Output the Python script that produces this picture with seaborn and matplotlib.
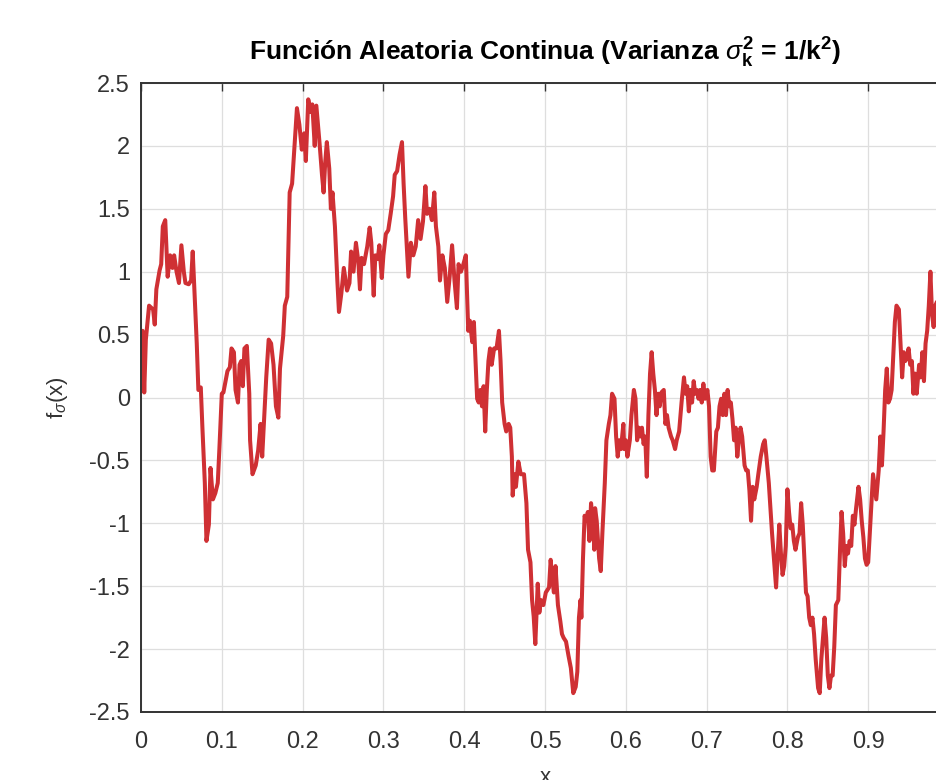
import matplotlib
matplotlib.use("Agg")
import matplotlib.pyplot as plt
import matplotlib.ticker as mticker
import numpy as np
import pandas as pd
import seaborn as sns

# sample positions (x)
x_vals = [
    0.000, 0.002, 0.004, 0.006, 0.010, 0.015, 0.017, 0.019, 0.023, 0.025,
    0.027, 0.030, 0.033, 0.036, 0.039, 0.041, 0.044, 0.047, 0.050, 0.053,
    0.055, 0.059, 0.062, 0.064, 0.066, 0.069, 0.071, 0.074, 0.076, 0.079,
    0.081, 0.084, 0.086, 0.089, 0.092, 0.095, 0.097, 0.100, 0.102, 0.105,
    0.107, 0.110, 0.112, 0.115, 0.117, 0.120, 0.122, 0.124, 0.126, 0.128,
    0.131, 0.134, 0.135, 0.138, 0.142, 0.145, 0.148, 0.150, 0.152, 0.155,
    0.158, 0.161, 0.164, 0.167, 0.170, 0.172, 0.176, 0.178, 0.181, 0.184,
    0.187, 0.189, 0.193, 0.196, 0.199, 0.202, 0.204, 0.207, 0.210, 0.212,
    0.215, 0.217, 0.221, 0.224, 0.226, 0.228, 0.230, 0.233, 0.235, 0.237,
    0.240, 0.243, 0.245, 0.248, 0.251, 0.255, 0.258, 0.260, 0.263, 0.266,
    0.269, 0.271, 0.273, 0.276, 0.280, 0.283, 0.285, 0.288, 0.290, 0.293,
    0.295, 0.298, 0.300, 0.303, 0.306, 0.309, 0.312, 0.314, 0.317, 0.320,
    0.323, 0.325, 0.327, 0.329, 0.331, 0.334, 0.337, 0.340, 0.343, 0.346,
    0.349, 0.352, 0.354, 0.357, 0.360, 0.363, 0.365, 0.368, 0.370, 0.373,
    0.376, 0.379, 0.382, 0.385, 0.388, 0.391, 0.393, 0.396, 0.399, 0.402,
    0.405, 0.407, 0.410, 0.412, 0.414, 0.416, 0.418, 0.420, 0.422, 0.424,
    0.426, 0.428, 0.430, 0.432, 0.434, 0.437, 0.440, 0.443, 0.445, 0.447,
    0.450, 0.452, 0.455, 0.457, 0.459, 0.460, 0.462, 0.464, 0.467, 0.470,
    0.474, 0.477, 0.479, 0.482, 0.484, 0.486, 0.488, 0.491, 0.493, 0.495,
    0.498, 0.501, 0.505, 0.507, 0.509, 0.511, 0.513, 0.516, 0.519, 0.521,
    0.523, 0.526, 0.529, 0.532, 0.535, 0.538, 0.540, 0.542, 0.544, 0.545,
    0.547, 0.549, 0.551, 0.553, 0.555, 0.557, 0.560, 0.561, 0.562, 0.564,
    0.567, 0.569, 0.571, 0.574, 0.576, 0.579, 0.581, 0.583, 0.586, 0.588,
    0.590, 0.592, 0.594, 0.597, 0.598, 0.600, 0.602, 0.605, 0.607, 0.610,
    0.612, 0.614, 0.616, 0.618, 0.620, 0.622, 0.624, 0.626, 0.628, 0.630,
    0.632, 0.634, 0.636, 0.638, 0.640, 0.642, 0.644, 0.647, 0.649, 0.651,
    0.653, 0.656, 0.658, 0.661, 0.663, 0.666, 0.669, 0.672, 0.674, 0.676,
    0.678, 0.680, 0.682, 0.684, 0.686, 0.688, 0.690, 0.692, 0.694, 0.696,
    0.698, 0.701, 0.703, 0.705, 0.707, 0.709, 0.712, 0.714, 0.716, 0.718,
    0.720, 0.722, 0.724, 0.726, 0.728, 0.730, 0.732, 0.734, 0.736, 0.738,
    0.740, 0.742, 0.744, 0.747, 0.749, 0.751, 0.753, 0.755, 0.757, 0.759,
    0.762, 0.764, 0.767, 0.770, 0.772, 0.774, 0.777, 0.779, 0.781, 0.784,
    0.786, 0.788, 0.790, 0.792, 0.794, 0.796, 0.798, 0.800, 0.802, 0.804,
    0.806, 0.808, 0.810, 0.813, 0.815, 0.817, 0.819, 0.821, 0.823, 0.825,
    0.827, 0.829, 0.831, 0.833, 0.835, 0.838, 0.840, 0.842, 0.844, 0.846,
    0.848, 0.850, 0.852, 0.854, 0.856, 0.858, 0.860, 0.863, 0.865, 0.867,
    0.869, 0.871, 0.873, 0.875, 0.877, 0.879, 0.881, 0.883, 0.885, 0.888,
    0.890, 0.892, 0.894, 0.896, 0.898, 0.900, 0.902, 0.904, 0.906, 0.908,
    0.910, 0.913, 0.915, 0.917, 0.919, 0.921, 0.923, 0.925, 0.927, 0.929,
    0.931, 0.933, 0.935, 0.938, 0.940, 0.942, 0.944, 0.946, 0.948, 0.950,
    0.952, 0.954, 0.956, 0.958, 0.960, 0.963, 0.965, 0.967, 0.969, 0.971,
    0.973, 0.975, 0.977, 0.979, 0.981, 0.983, 0.985,
]

# function values f_sigma(x)
f_vals = [
    0.41, 0.53, 0.04, 0.46, 0.73, 0.70, 0.58, 0.86, 1.01, 1.06,
    1.36, 1.41, 0.96, 1.13, 1.03, 1.13, 1.00, 0.91, 1.21, 1.00,
    0.91, 0.90, 0.93, 1.16, 0.86, 0.43, 0.06, 0.08, -0.24, -0.68,
    -1.14, -1.01, -0.56, -0.81, -0.76, -0.68, -0.41, 0.03, 0.04, 0.14,
    0.21, 0.24, 0.39, 0.36, 0.06, -0.04, 0.26, 0.29, 0.09, 0.39,
    0.41, 0.03, -0.34, -0.61, -0.54, -0.42, -0.21, -0.47, -0.22, 0.16,
    0.46, 0.43, 0.26, -0.07, -0.16, 0.23, 0.49, 0.73, 0.80, 1.63,
    1.70, 1.90, 2.30, 2.17, 1.97, 2.10, 1.88, 2.37, 2.27, 2.33,
    2.00, 2.32, 2.02, 1.77, 1.63, 1.87, 2.03, 1.82, 1.50, 1.63,
    1.36, 0.93, 0.68, 0.83, 1.03, 0.85, 0.91, 1.16, 1.00, 1.23,
    1.08, 0.86, 1.11, 1.06, 1.20, 1.35, 1.23, 0.81, 1.13, 1.10,
    1.21, 0.95, 1.13, 1.30, 1.33, 1.46, 1.60, 1.77, 1.80, 1.93,
    2.03, 1.70, 1.43, 1.20, 0.96, 1.23, 1.13, 1.20, 1.41, 1.26,
    1.40, 1.68, 1.46, 1.50, 1.41, 1.63, 1.36, 1.20, 0.93, 1.13,
    1.03, 0.76, 0.96, 1.21, 0.93, 0.71, 1.06, 1.00, 1.06, 1.13,
    0.53, 0.61, 0.44, 0.60, 0.29, -0.01, -0.04, 0.06, -0.07, 0.09,
    -0.27, 0.06, 0.29, 0.39, 0.26, 0.39, 0.39, 0.53, 0.29, -0.04,
    -0.21, -0.27, -0.21, -0.24, -0.47, -0.78, -0.61, -0.71, -0.51, -0.61,
    -0.61, -0.84, -1.21, -1.31, -1.61, -1.74, -1.96, -1.48, -1.71, -1.61,
    -1.65, -1.55, -1.51, -1.29, -1.44, -1.55, -1.34, -1.65, -1.78, -1.88,
    -1.91, -1.94, -2.05, -2.15, -2.35, -2.30, -2.18, -1.75, -1.61, -1.75,
    -1.28, -0.94, -0.98, -0.91, -1.14, -0.84, -1.04, -1.21, -0.88, -0.98,
    -1.28, -1.38, -1.08, -0.68, -0.34, -0.21, -0.14, 0.03, -0.01, -0.31,
    -0.47, -0.34, -0.41, -0.21, -0.41, -0.34, -0.47, -0.34, -0.14, 0.06,
    -0.01, -0.34, -0.24, -0.31, -0.24, -0.37, -0.31, -0.63, -0.14, 0.19,
    0.36, 0.19, 0.06, -0.14, 0.03, -0.07, 0.04, 0.06, -0.21, -0.14,
    -0.24, -0.31, -0.34, -0.41, -0.34, -0.27, -0.04, 0.16, 0.03, 0.09,
    -0.11, 0.06, -0.04, 0.13, 0.03, 0.06, -0.01, 0.06, -0.04, 0.11,
    -0.01, 0.06, -0.07, -0.47, -0.58, -0.58, -0.27, -0.24, -0.07, -0.01,
    -0.14, 0.03, -0.14, 0.06, -0.07, -0.04, -0.17, -0.34, -0.24, -0.47,
    -0.34, -0.24, -0.31, -0.54, -0.58, -0.58, -0.74, -0.98, -0.71, -0.81,
    -0.71, -0.61, -0.47, -0.37, -0.34, -0.47, -0.68, -0.88, -1.08, -1.34,
    -1.51, -1.24, -1.01, -1.24, -1.41, -1.34, -1.18, -0.73, -0.91, -1.04,
    -1.01, -1.14, -1.21, -1.11, -1.08, -0.84, -1.01, -1.28, -1.55, -1.58,
    -1.75, -1.81, -1.75, -1.88, -2.08, -2.31, -2.35, -2.08, -1.91, -1.75,
    -1.91, -2.21, -2.31, -2.21, -2.21, -1.98, -1.65, -1.61, -1.24, -0.91,
    -1.08, -1.34, -1.18, -1.24, -1.14, -1.18, -0.94, -1.01, -0.88, -0.71,
    -0.81, -0.98, -1.11, -1.28, -1.33, -1.31, -1.08, -0.84, -0.61, -0.71,
    -0.81, -0.58, -0.31, -0.54, -0.27, 0.06, 0.23, -0.04, -0.01, 0.06,
    0.33, 0.60, 0.73, 0.70, 0.43, 0.16, 0.36, 0.29, 0.33, 0.39,
    0.26, 0.29, 0.03, 0.19, 0.03, 0.26, 0.16, 0.36, 0.13, 0.43,
    0.53, 0.73, 1.00, 0.66, 0.56, 0.73, 0.76,
]

x_ticks = [0, 0.1, 0.2, 0.3, 0.4, 0.5, 0.6, 0.7, 0.8, 0.9, 1.0]
y_ticks = [-2.5, -2, -1.5, -1, -0.5, 0, 0.5, 1, 1.5, 2, 2.5]

df = pd.DataFrame({"x": x_vals, "f": f_vals})

sns.set_theme(style="white")
plt.rcParams["font.family"] = ["Liberation Sans", "DejaVu Sans"]
plt.rcParams["mathtext.fontset"] = "custom"
plt.rcParams["mathtext.rm"] = "Liberation Sans"
plt.rcParams["mathtext.it"] = "Liberation Sans:italic"
plt.rcParams["mathtext.bf"] = "Liberation Sans:bold"
plt.rcParams["axes.unicode_minus"] = False

dark = "#333333"

fig = plt.figure(figsize=(9.36, 7.8), dpi=100)
# axes runs to x=1 just past the right edge, as in the cropped reference
ax = fig.add_axes([141 / 936, 68 / 780, 808 / 936, 629 / 780])

sns.lineplot(data=df, x="x", y="f", ax=ax, color="#cf3034", linewidth=2.9,
             sort=False, estimator=None)

ax.set_xlim(0, 1)
ax.set_ylim(-2.5, 2.5)
ax.set_xticks(x_ticks)
ax.set_yticks(y_ticks)
fmt = mticker.FuncFormatter(lambda v, p: "%g" % v)
ax.xaxis.set_major_formatter(fmt)
ax.yaxis.set_major_formatter(fmt)

ax.grid(True, color="#dedede", linewidth=0.9)
ax.set_axisbelow(True)
for s in ax.spines.values():
    s.set_color(dark)
    s.set_linewidth(1.4)
ax.tick_params(direction="in", length=6, width=1.0, top=True, right=True,
               colors=dark, labelsize=17)
ax.tick_params(axis="x", pad=14)
ax.tick_params(axis="y", pad=8)

ax.set_title(r"Función Aleatoria Continua (Varianza $\sigma_{\mathbf{k}}^{\mathbf{2}}$ = 1/k$^{\mathbf{2}}$)",
             fontsize=19, fontweight="bold", color="black", pad=16)
ax.set_ylabel(r"f$_{\sigma}$(x)", fontsize=16, color=dark, labelpad=14)
ax.set_xlabel("x", fontsize=16, color=dark, labelpad=10)

fig.savefig("out.png", dpi=100)
